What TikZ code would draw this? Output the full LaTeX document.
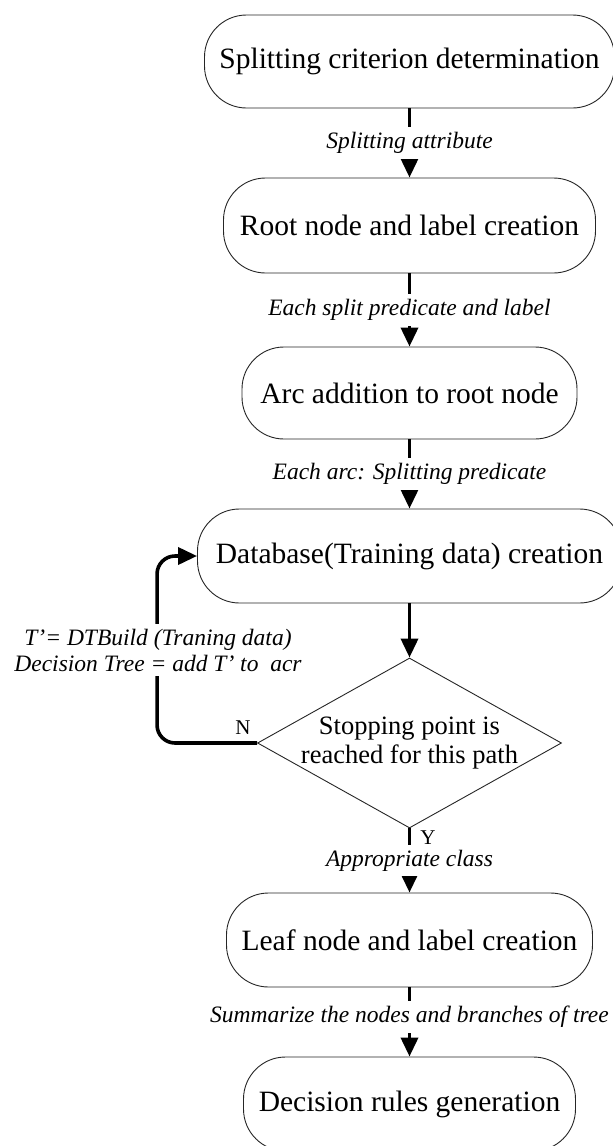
\documentclass[tikz,border=0pt]{standalone}
\usepackage{fontspec}
\setmainfont{Liberation Serif}
\usetikzlibrary{arrows.meta,shapes.geometric}
\tikzset{
  box/.style={draw=black!85, line width=0.9pt, rounded corners=42pt, inner sep=0pt,
    font=\fontsize{29.5}{34}\selectfont},
  conn/.style={line width=3.6pt, -{Triangle[length=19pt,width=17pt]}},
  lbl/.style={fill=white, inner xsep=2pt, inner ysep=5pt, font=\fontsize{23.5}{26}\itshape\selectfont},
  yn/.style={inner sep=0pt, font=\fontsize{21}{24}\selectfont},
}
\begin{document}
\begin{tikzpicture}[x=1pt,y=-1pt]
\useasboundingbox[fill=white] (0,0) rectangle (613,1146);
\node[box, minimum width=410pt, minimum height=93pt] (b1) at (409.5,61.5) {Splitting criterion determination};
\node[box, minimum width=372pt, minimum height=95pt] (b2) at (409.5,225.5) {Root node and label creation};
\node[box, minimum width=335pt, minimum height=92pt] (b3) at (409.5,393) {Arc addition to root node};
\node[box, minimum width=424pt, minimum height=94pt] (b4) at (409.5,556) {Database(Training data) creation};
\node[diamond, draw=black!85, line width=0.9pt, minimum width=304pt, minimum height=170pt, inner sep=0pt] (d) at (409.5,743) {};
\node[align=center, inner sep=0pt, font=\fontsize{26.5}{29}\selectfont] (dtext) at (d.center) {Stopping point is\\reached for this path};
\node[box, minimum width=366pt, minimum height=94pt] (b5) at (409.5,940) {Leaf node and label creation};
\node[box, minimum width=332pt, minimum height=94pt] (b6) at (409.5,1104) {Decision rules generation};

\draw[conn] (b1) -- node[lbl] (l1) {Splitting attribute} (b2);
\draw[conn] (b2) -- node[lbl] (l2) {Each split predicate and label} (b3);
\draw[conn] (b3) -- node[lbl] (l3) {Each arc: Splitting predicate} (b4);
\draw[conn] (b4) -- (d);
\draw[conn] (d.south) -- node[lbl] (l5) {Appropriate class} (b5);
\draw[conn] (b5) -- node[lbl, yshift=5pt] (l6) {Summarize the nodes and branches of tree} (b6);
\draw[conn, rounded corners=18pt] (d.west) -- ++(-100,0) |- (b4.west);
\node[lbl, align=center] (loop) at (158,650) {T’= DTBuild (Traning data)\\Decision Tree = add T’ to~~acr};
\node[yn] (n) at (243,728) {N};
\node[yn] (y) at (428,838) {Y};
\end{tikzpicture}
\end{document}
